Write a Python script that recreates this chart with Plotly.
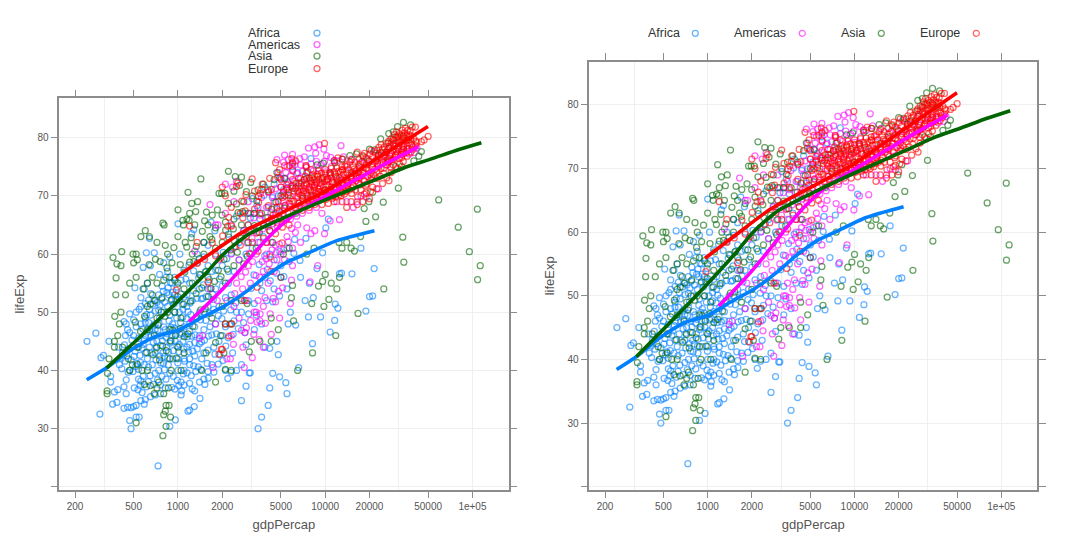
import plotly.graph_objects as go

africa = [(241,45),(277,46.4),(300,42.2),(312,42.6),(340,45),(349,39),(349,38),(295,32.5),(360,34.2),(385,34.5),(370,36.3),(390,36.7),(430,37.2),(445,36),(445,38.4),(430,33.5),(455,33.7),(480,33.6),(500,33.8),(520,34),(480,30),(470,31.4),(520,32),(545,32),(560,34.8),(590,34.2),(600,35),(540,38.5),(560,38.2),(580,39),(505,37),(470,40),(495,39.8),(450,42.5),(420,43),(400,41),(395,44),(440,46),(470,46.5),(430,48.4),(445,48),(455,47),(470,49.7),(500,48.7),(520,50),(545,50.5),(560,51),(600,51.5),(640,50.5),(690,52),(740,53),(560,52.5),(590,54),(620,55),(510,54.2),(540,45.5),(600,46),(640,47),(700,48),(750,49),(800,50),(850,51),(900,52),(950,53),(600,43),(640,44),(680,44.8),(720,45),(770,46),(820,47),(870,48.5),(920,48),(980,49),(1020,50),(1080,50.5),(1150,51),(590,41),(630,40.6),(670,41),(710,41.8),(750,42.5),(790,43),(840,44),(900,45),(960,45),(1020,44.5),(1080,45),(1150,44),(1200,44.5),(1300,44.8),(700,39.5),(740,40),(780,39),(830,38.5),(880,39.5),(930,39),(990,38.3),(1050,38),(1100,37.5),(1200,37.8),(1250,36.8),(1300,36.5),(1400,38),(1500,38.5),(1600,39.8),(1700,41),(1050,35.8),(1060,36.5),(1170,33),(1200,33.2),(1290,33.8),(1410,35.2),(960,31.5),(880,30.4),(733,23.6),(650,35.5),(700,35.8),(760,36),(820,37),(860,41),(920,42),(1000,42),(1100,42),(1200,42),(1300,42.5),(1450,42),(1500,43),(1600,43.5),(1750,44),(1900,45),(2000,46),(2100,47.5),(2250,48),(2400,48.5),(1400,46),(1500,47),(1650,47.5),(1800,48),(1300,47.5),(1200,48),(1100,47.5),(1000,47),(1400,50),(1500,50),(1600,51),(1750,50.5),(1900,51),(2100,52.5),(2300,53),(2500,50),(2700,50),(3000,52),(3300,51.5),(3600,55),(3900,56),(2200,55),(2000,54.5),(1800,54),(1600,54),(1400,54),(1200,55),(1050,55.5),(950,56),(850,57),(750,56.5),(650,58),(610,60.2),(690,60.2),(640,62.7),(580,57.7),(800,58.5),(880,59.5),(1030,60),(1000,65.2),(1240,63.5),(1280,64.2),(1680,65.5),(1780,64),(1500,62),(1600,61.5),(1350,60),(1500,59.5),(1600,58),(1800,60),(2000,58),(2200,57),(2400,57),(2600,59),(2900,60),(3200,61),(3500,62),(3800,63),(4200,60),(4500,59),(5000,58),(5500,61),(6200,62.5),(7400,62.7),(9600,60.2),(10100,64.5),(10500,66),(8000,76.4),(5000,73),(6000,75),(4500,72),(3900,71.5),(5200,71),(6500,74),(4800,70),(3200,69.5),(2800,67),(2500,66.5),(3600,66),(4100,68),(3000,65),(2600,62),(2800,64),(3300,67),(21000,52.8),(20000,52.7),(18900,50.2),(15200,56.6),(12900,56.7),(12500,56.6),(11600,48.6),(10800,46.6),(11700,51.4),(12200,50.7),(9300,49.2),(7700,49.2),(7800,55),(8300,52.5),(7300,52),(6300,47.8),(5800,50),(5600,48),(4900,52.8),(8200,44.6),(4700,45),(4800,42.7),(6600,40.5),(3900,44),(4200,43.8),(4400,39.5),(4900,38.9),(5400,37.9),(5500,36),(4200,37),(4100,34),(3700,32),(3500,30),(2700,34.8),(2900,37.3),(3100,39.6),(3050,39.6),(2700,41),(2500,40),(2350,43),(2100,40),(2850,46.5),(3300,47),(3700,48),(21500,57.5),(17500,61),(8800,57.5),(6800,56),(5500,54),(4500,54),(4000,52),(1250,52),(1150,53),(950,50),(880,49.5),(800,47.5),(700,47),(650,49.5),(600,49),(560,48),(520,47.5),(500,46),(540,44),(580,44.5),(620,42),(660,43),(760,37.5),(700,43),(1000,40),(1100,40),(1200,41),(870,53),(780,54.5),(830,56),(910,55),(1700,57),(1350,58.5)]
africa += [(412,42.1),(433,44.4),(462,43.7),(487,45.2),(511,43.3),(527,41.2),(553,42.6),(571,43.8),(593,45.3),(617,46.6),(633,48.2),(657,45.9),(673,47.6),(689,46.3),(712,44.1),(729,46.9),(743,48.1),(761,44.3),(783,45.1),(797,41.2),(811,42.4),(829,45.7),(847,46.3),(863,43.2),(881,44.7),(897,47.4),(911,46.1),(931,43.4),(947,47.3),(967,46.2),(983,44.2),(997,41.3),(1013,43.2),(1031,46.2),(1043,48.2),(1061,46.4),(1079,49.2),(1093,43.7),(1109,41.6),(1127,46.2),(1139,48.9),(1163,45.8),(1181,43.2),(1197,46.7),(1223,49.6),(1241,45.9),(1263,43.3),(1279,40.8),(1307,46.1),(1327,48.9),(1351,43.7),(1373,40.6),(1397,44.6),(1423,48.7),(1447,44.9),(1477,52.4),(1513,45.2),(1547,48.6),(1579,41.2),(1613,45.9),(1651,49.8),(1697,46.1),(1739,52.2),(1783,42.8),(1827,46.3),(1879,49.4),(1931,42.7),(1987,48.9),(2041,50.2),(2113,44.2),(2197,45.6),(2281,50.4),(2371,46.2),(2467,51.6),(2567,47.2),(2681,52.4),(2791,48.2),(2903,44.4),(3017,49.7),(3141,54.1),(3277,56.4),(3413,49.5),(3557,58.2),(3701,53.7),(3887,59.7),(4043,57.3),(4237,55.4),(4411,51.8),(4679,56.7),(4919,60.4),(5237,56.1),(5681,58.7),(6127,60.1),(6743,58.9),(535,36.7),(553,37.4),(571,36.2),(611,37.2),(629,38.1),(647,39.1),(683,37.6),(727,38.4),(767,41.3),(809,40.1),(853,42.1),(907,37.1),(953,36.8),(1013,37.4),(1087,39.4),(1153,39.6),(1231,39.1),(1321,39.8),(1433,40.2),(1523,37.6),(1607,38.7),(1753,39.7),(1877,41.1),(2021,41.7),(2179,38.6),(2291,39.7),(415,40.3),(437,41.6),(459,39.7),(481,41.8),(503,42.4),(517,40.7),(539,40.2),(557,41.4),(577,47.1),(599,48.2),(612,49.6),(631,52.1),(653,53.2),(677,51.4),(703,50.2),(721,51.7),(739,50.4),(757,51.2),(773,52.3),(793,53.6),(813,51.7),(841,53.4),(859,54.2),(889,55.1),(919,53.4),(937,51.4),(967,52.2),(991,54.3),(1021,52.1),(1051,53.1),(1071,51.3),(1101,52.6),(1131,55.7),(1171,50.1),(1211,51.6),(1271,53.7),(1341,52.4),(1381,55.9),(1441,52.3),(1489,54.7),(1553,52.7),(1631,55.6),(1717,53.1),(1807,57.2),(1913,55.7),(2033,60.3),(2143,59.2),(2311,60.1),(2477,61.3),(1097,57.2),(1187,58.1),(1277,57.1),(1423,56.4),(1531,56.9),(3101,66.2),(3433,68.3),(3847,70.1),(4373,69.7),(5571,72.4),(4033,65.1),(4717,67.7),(2203,63.4)]

americas = [(1400,45.5),(1470,46),(1730,40.5),(1800,48),(1650,54),(2150,42),(2270,42),(2300,46),(2380,44.5),(2700,46.9),(2850,46.5),(2820,40.5),(2760,44),(3200,42.2),(3400,50),(3450,48.3),(3600,48.5),(3800,44),(3550,45.3),(4300,46.2),(4900,49),(4600,51.8),(5800,51.5),(5900,55.5),(7900,55.2),(8900,58),(3800,51),(3900,52.5),(3300,50),(3500,52),(2900,52),(2600,49),(2400,51),(2150,52),(1850,52),(2500,55),(2750,54),(3100,55),(3600,56),(3800,57),(4100,55),(4500,57),(5000,56),(5300,59),(6000,58),(4700,59),(4000,60),(3400,60),(3000,58),(2600,59),(2300,60),(1900,59),(1300,60.5),(1800,65),(1650,68.5),(1870,65),(2100,67),(2400,69),(2300,65),(2800,64),(3000,69),(2100,72),(2500,72.5),(2350,71.5),(3600,62),(3300,64),(4000,62),(4300,62),(4600,61.5),(5500,63),(5000,60),(6000,61),(6800,62),(8000,63.5),(9900,63.5),(8500,64),(7500,64.5),(6500,65),(5800,66),(6400,66.5),(7000,67),(7800,67.5),(8700,68),(9500,67),(10800,65.7),(12500,65.9),(5200,67),(4600,67),(4000,68),(3500,68),(3100,67),(4500,69),(5200,69),(5800,70),(6500,70),(7200,70.5),(8000,71),(9000,70.5),(10000,71),(12000,69),(14000,69),(15500,68),(16500,69),(17500,70),(19000,69.8),(23000,71.2),(4400,70),(5000,71.5),(5600,72),(6200,72.5),(6800,73),(7500,73),(5400,74),(4800,74),(6000,74.5),(5500,75),(6000,75.8),(4700,76.2),(5300,77),(6000,77.1),(7700,78.2),(8500,78.4),(9100,78.8),(9800,78),(10900,76.6),(12800,78.6),(9900,75.9),(9400,75.4),(11000,75),(8000,75.5),(12000,76),(14000,75),(16000,74),(18000,74),(21000,75),(22000,76),(23000,77),(25000,77),(27000,76.5),(30000,77),(33000,77.5),(36000,78),(39000,78.3),(42000,78.2),(29000,78.8),(27000,78.2)]
americas += [(2913,47.3),(3117,48.6),(3271,46.2),(3611,49.7),(3923,48.1),(4231,49.7),(4437,52.4),(4813,53.6),(5137,54.2),(2431,53.2),(2687,56.1),(2879,56.9),(3047,60.1),(3211,58.7),(3389,56.3),(3733,58.7),(3967,59.2),(4163,58.3),(4357,60.7),(4651,60.3),(4877,61.7),(5231,60.7),(5613,62.1),(2947,61.9),(3183,62.7),(3467,63.7),(3767,64.3),(4087,64.7),(4397,65.2),(4733,64.7),(5071,65.4),(5477,65.9),(5917,64.4),(6271,63.7),(3277,66.2),(3613,66.7),(3967,66.2),(4283,67.1),(4561,66.1),(4927,68.2),(5381,68.4),(5743,68.1),(6173,67.9),(6647,68.7),(7211,68.4),(7639,69.2),(8231,69.6),(8863,69.3),(9613,69.8),(10733,70.1),(11437,70.6),(12811,70.8),(13877,71.3),(3691,69.7),(4103,70.6),(4613,71.2),(5131,70.3),(5467,71.1),(5867,71.6),(6331,71.4),(6883,71.6),(7411,71.9),(8107,72.2),(8713,72.3),(9337,72.1),(10217,72.6),(11113,72.4),(12203,72.7),(13417,73.1),(14813,73.4),(16217,72.6),(18317,72.8),(20113,73.6),(4913,73.1),(5337,72.9),(5819,73.4),(6427,73.8),(7013,74.2),(7633,74.1),(8317,74.3),(9013,74.7),(10037,74.1),(10913,73.7),(6211,75.3),(6833,75.3),(7411,75.1),(5213,75.8),(5617,76.2),(8719,75.9),(10211,76.9),(11533,76.1),(13301,76.7),(15217,76.3),(17413,75.6),(19217,76.2),(21317,77.6),(24211,75.7),(26417,75.3),(28719,77.8),(31313,78.3),(34117,78.4),(37211,77.2),(40313,77.4),(6719,76.4),(7217,76.7),(8617,77.3)]

asia = [(330,36),(330,36.5),(332,39.5),(340,42),(370,45),(370,44),(372,49.3),(378,53),(362,59.4),(385,58.3),(410,58),(415,60.4),(380,55.9),(495,60),(520,60),(530,59),(500,58.5),(560,63),(600,64),(640,63),(720,62),(790,65.3),(805,65),(1000,67.6),(1170,70.6),(1090,65),(1000,63),(820,61.5),(850,60),(910,58.5),(1080,65.8),(1150,66),(1200,67),(1190,65.8),(1240,68.7),(1320,67.3),(1300,65),(1360,69),(1120,62),(1230,62.8),(1250,60),(1500,60),(1500,62),(1600,65),(1650,63),(1700,62.5),(1800,64.5),(1430,72.9),(1900,70.4),(1980,70.4),(2200,74.2),(2080,70.4),(2200,68.7),(2500,68.6),(2450,73.3),(2620,71.8),(2700,73.2),(2400,70.8),(2800,69),(3000,67),(3200,70),(3500,71),(3800,72),(4100,71),(4500,72.8),(4700,74),(5000,70),(5300,73),(3300,67),(3700,67),(4200,64),(4400,62),(2100,65.5),(2400,66),(2700,65),(3000,62),(3400,61),(2000,62),(1800,61),(1550,57),(1600,56),(1400,56.5),(1250,55),(1100,54),(1000,55),(950,55.5),(880,56),(800,55.5),(720,55),(670,56),(620,55),(580,54),(520,56),(470,55),(440,53),(410,50),(400,48),(390,46),(420,44),(460,42),(490,41),(530,41),(570,40),(620,40),(590,37.6),(650,37.4),(690,36),(720,37),(740,38),(800,36),(860,37),(820,33),(830,34),(870,34),(800,32.4),(890,32),(830,30.4),(790,28.8),(520,31),(470,40),(530,44),(620,47),(690,46),(720,49),(770,50),(850,50),(950,50),(1050,49),(700,52),(780,52.5),(670,53),(620,51),(880,47),(960,46),(1000,44),(880,42),(900,40),(1050,40),(1100,43),(1450,40),(1550,43),(1700,49),(1800,44.8),(1950,46),(2100,48),(2300,48),(2050,43),(1800,38),(2100,40.2),(2300,40),(2000,51),(2100,55),(2300,52),(2400,58),(2700,52),(2950,51.5),(3150,45),(3600,45),(3050,43.2),(4300,49),(4300,45),(4800,47),(5000,56),(5200,60),(5700,61),(6100,48.5),(6000,54.6),(5900,52.5),(6500,40),(7500,60),(8400,61),(8200,43),(8100,51.5),(9000,54.5),(9600,55.3),(9800,51),(10600,52.2),(11800,46),(12000,54),(12400,62),(13000,61),(14000,62),(15000,61),(15800,60.5),(16700,49.8),(25000,54),(12500,56),(11000,55),(10000,56.5),(17400,63),(18400,67.8),(19800,69),(21000,70.6),(22000,66.4),(18900,65.6),(24800,68.9),(31400,71.3),(33650,62.9),(34200,58.6),(59000,69.3),(108000,67.7),(80100,64.6),(95300,60.4),(113000,58),(108400,55.6),(45000,77.6),(40000,76),(33000,75),(30000,75),(27000,76),(23000,77),(20000,78),(23800,79.8),(27000,80.7),(31000,81.9),(34000,82.6),(38000,82.2),(29000,81),(26000,77.5),(17000,75),(15000,74),(12000,73),(10000,71),(8000,70),(7000,69.5),(6300,67),(7500,74),(9500,73)]
asia += [(613,43.1),(677,42.7),(717,43.9),(749,41.8),(787,44.2),(833,43.4),(887,45.1),(919,46.9),(977,42.1),(1037,47.2),(1103,45.8),(1171,46.3),(1263,47.6),(1337,49.2),(1427,50.4),(1531,50.6),(1607,52.7),(1677,54.1),(1771,55.3),(1879,57.2),(1961,56.1),(2057,59.1),(2161,57.4),(2277,60.7),(2411,62.3),(2531,60.3),(2683,62.7),(2797,58.3),(2953,59.6),(3103,64.2),(3313,64.9),(3571,63.7),(3819,65.1),(4073,66.3),(4337,67.7),(4621,68.9),(4913,66.1),(5287,67.9),(5617,70.1),(6013,71.3),(6617,72.2),(7213,72.8),(8123,73.1),(8817,75.3),(9713,75.6),(10817,73.9),(11613,75.7),(13117,76.3),(14713,76.9),(16317,77.2),(18113,76.7),(19817,75.9),(21713,77.9),(24117,77.4),(26713,79.1),(28817,79.7),(31017,80.1),(33817,80.2),(36517,79.7),(43217,76.8),(1147,61.2),(1283,58.7),(1397,59.2),(1463,63.9),(1517,65.7),(1561,67.2),(1709,66.7),(1853,67.6),(1993,66.7),(2107,64.1),(2213,62.9),(2377,64.3),(2557,67.1),(2743,67.3),(2917,70.7),(3119,72.3),(3433,69.1),(637,58.2),(703,59.1),(757,58.7),(841,57.6),(937,61.1),(1037,58.2),(1113,56.9),(1201,58.6),(1331,61.3),(513,48.3),(557,46.7),(593,49.3),(651,51.4),(733,47.8),(817,49.3),(907,52.2),(997,52.7),(1093,51.4),(1217,51.9),(1327,53.2),(1453,54.2)]

europe = [(973,53.8),(1354,58.4),(1710,61.9),(2172,64.8),(2860,67.4),(3528,69.9),(4126,70.7),(4314,71.1),(2547,72.2),(4766,73.2),(6019,74.3),(7447,74.9),(1601,55.2),(1942,59.3),(2312,64.8),(2760,66.2),(3313,67.7),(3533,68.9),(3630,70.4),(3739,72),(2497,71.6),(3193,72.9),(4604,75.7),(5937,76.4),(1969,43.6),(2219,45.9),(2322,48),(2826,52),(3451,54.3),(4269,57),(4241,59.5),(5089,61.9),(5678,65),(6601,68.8),(6508,70.8),(8458,71.8),(2650,61.5),(3200,62),(3500,60.5),(3800,65),(4200,64),(4600,63.5),(5000,66),(5600,67),(6300,68),(7000,67.5),(7800,68),(8500,68.5),(9500,68.5),(10500,68.7),(11500,69),(13000,69),(14000,68),(15000,69),(16500,68.5),(18000,69),(20000,69.5),(4800,69),(5300,70),(5800,69.5),(6500,69.7),(7000,70),(7600,70),(8200,70),(8800,70.2),(9400,70),(10000,70),(10700,70.5),(11300,70),(12000,70.5),(12800,70),(13500,70.3),(14500,71),(16000,71),(17500,71),(19000,70.5),(21000,71.5),(5000,71.5),(5500,71.3),(6000,71.7),(6600,71.7),(7200,71.7),(7800,71.5),(8400,71.5),(9000,71.2),(9700,71.5),(10300,71.8),(11000,71.5),(11800,72),(12500,71.5),(13300,72),(14200,72.5),(15300,72.5),(16800,72.2),(18500,72.5),(20500,72.8),(22500,73),(6000,72.8),(6600,73),(7200,72.8),(7800,73),(8400,72.8),(9000,72.8),(9700,73.2),(10300,72.8),(11000,73.1),(11800,73.3),(12500,73.1),(13300,73.7),(14200,73.8),(15300,74),(16800,74),(18500,74),(20500,74),(22500,74.2),(25000,73.8),(28000,74),(8000,74.5),(9000,74.3),(10000,74.5),(11000,74.7),(12000,74.8),(13000,75),(14000,75.3),(15500,75.2),(17000,75.4),(19000,75.3),(21000,75.5),(23500,75.6),(26000,75.3),(29000,75.3),(32000,75.5),(11500,76),(13000,76.3),(15000,76.2),(17000,76.3),(19000,76.5),(21000,76.7),(23000,76.7),(25000,76.9),(27500,76.8),(30000,77),(33000,76.6),(36000,76.8),(16500,77.5),(18500,77.3),(20500,77.8),(22500,77.8),(24500,78),(26500,77.9),(29000,78),(31500,78),(34000,78),(37000,78.1),(39500,78),(24000,78.8),(26000,79),(28000,79.1),(30000,79),(32000,79.2),(34500,79),(37000,79.1),(28000,79.8),(30000,80),(32000,79.9),(34500,80),(37000,80),(40000,79.8),(32000,80.7),(34500,80.8),(37000,80.5),(30500,81),(42000,79.2),(45000,79.3),(47000,79.6),(50000,80.2),(39000,81.8),(41000,81.8),(9900,79),(13000,74.5),(12200,76.5),(6000,75.6),(7400,75.2),(4900,74.5),(5300,75.2),(5700,75.2),(6300,76),(5000,72.8),(4200,73),(4700,68),(3600,67),(2000,71.5),(2100,70),(2650,67),(2300,68),(3000,65),(3100,60),(4000,62),(1200,64.8),(1350,62),(1800,59.7),(2100,48),(2000,43.6),(1900,42.8)]
europe += [(4433,66.7),(4873,67.4),(5311,68.3),(5733,68.7),(6117,69.1),(6733,68.3),(7117,68.9),(7519,69.3),(7933,69.4),(8317,69.1),(8713,69.6),(9113,69.2),(9613,69.7),(10117,69.4),(10633,69.9),(11217,69.6),(11813,69.8),(12413,70.2),(13117,70.6),(13919,70.8),(15117,70.4),(16613,69.8),(18413,70.3),(20317,70.7),(22417,71.2),(24517,72.1),(27113,72.6),(5213,70.7),(5633,70.6),(6113,70.8),(6613,70.4),(7111,70.8),(7517,70.5),(8017,70.7),(8513,70.9),(9013,70.7),(9517,70.8),(10111,70.6),(10819,71.1),(11611,71.2),(12517,70.9),(13211,71.3),(14111,71.7),(15511,71.8),(17213,71.9),(19113,72),(6317,72.2),(6913,72.3),(7433,72.2),(8013,72.4),(8717,72.1),(9213,72.3),(9917,72.5),(10513,72.4),(11311,72.3),(12117,72.5),(12917,72.7),(13917,73.1),(15017,73.2),(16317,73.4),(17713,73.5),(19413,73.3),(21413,73.6),(23613,73.4),(26213,73.1),(8217,73.6),(8813,73.7),(9417,73.9),(10017,73.8),(10713,74),(11513,74.1),(12313,74.2),(13113,74.4),(14313,74.5),(15713,74.6),(17313,74.8),(18913,74.7),(20813,74.9),(22913,75),(25213,74.8),(27913,74.9),(30913,74.7),(33913,75.9),(15913,75.8),(17913,75.9),(19913,76),(22013,76.1),(24313,76.3),(26713,76.2),(29113,76.3),(31913,76.4),(34313,77.3),(18013,76.9),(20013,77.2),(22013,77.3),(24013,77.3),(26013,77.4),(28013,77.3),(30513,77.6),(33013,77.8),(35513,77.4),(38213,77.5),(23113,78.3),(25213,78.4),(27213,78.5),(29513,78.5),(31513,78.6),(33513,78.5),(36013,78.6),(38613,78.7),(41013,78.6),(27013,79.4),(29113,79.5),(31113,79.5),(33313,79.6),(35613,79.5),(38113,79.6),(41213,79.4),(29513,80.5),(31313,80.3),(33013,80.4),(35813,80.4),(38313,80.3),(33513,81.3),(36113,81.2),(35013,81.6),(37713,81.1),(2417,61.2),(2913,63.1),(3411,63.6),(3817,62.7),(4313,66.1),(4713,65.4),(5117,64.6),(2893,70.2),(3311,70.8),(2713,69.1),(3711,71.1),(4117,68.3),(1517,59.1),(2213,66.3),(2011,63.1)]
europe += [(5127,69.7),(5473,71.9),(5939,69.1),(6239,71.2),(6817,70.1),(7289,71.2),(7711,71.1),(8137,71.9),(8627,70.5),(9227,71.7),(9871,70.9),(10407,72.9),(11007,70.2),(11933,71.4),(12311,72.2),(13021,72.2),(13733,72.6),(14303,72.1),(15207,71.3),(15811,73.8),(16437,73),(17019,73.1),(18087,73.9),(18811,71.7),(19703,74.4),(20611,73.3),(21877,74.6),(22711,75.4),(23913,74.7),(24733,75.7),(25633,76.7),(26917,75.8),(28217,76.1),(29733,76.7),(31117,77.2),(32933,77.1),(8907,73.4),(9533,72.7),(10817,73.5),(11703,73.7),(12711,74.1),(13611,75.1),(14733,75.8),(16119,74.3),(6871,71.1),(7337,73.4),(7891,72.6),(8481,73.3)]

series = {"Africa": africa, "Americas": americas, "Asia": asia, "Europe": europe}

colors = {"Africa": "#0080ff", "Americas": "#ff00ff", "Asia": "#006400", "Europe": "#ff0000"}

smooth_africa_gdp = [240, 330, 480, 700, 1000, 1500, 2050, 3000, 4000, 5500, 7850, 12000, 21600]
smooth_africa_life = [38.4, 40.5, 43.5, 45.8, 46.9, 49.3, 51.0, 53.8, 56.3, 58.6, 60.3, 62.3, 64.0]
smooth_americas_gdp = [1190, 1560, 2050, 2670, 3500, 4570, 6500, 10000, 23100, 42900]
smooth_americas_life = [48.4, 51.2, 54.2, 57.4, 60.9, 64.0, 67.2, 69.9, 74.9, 78.4]
smooth_asia_gdp = [327, 624, 1000, 1560, 2040, 2980, 5000, 10000, 23100, 35000, 51900, 80000, 115000]
smooth_asia_life = [40.4, 47.0, 51.9, 56.8, 60.0, 63.3, 66.0, 69.3, 73.0, 74.9, 76.3, 77.9, 79.1]
smooth_europe_gdp = [960, 1560, 2670, 5000, 10000, 20000, 49900]
smooth_europe_life = [55.9, 59.6, 63.6, 67.0, 70.8, 75.6, 81.9]
smooths = {
    "Africa": (smooth_africa_gdp, smooth_africa_life),
    "Americas": (smooth_americas_gdp, smooth_americas_life),
    "Asia": (smooth_asia_gdp, smooth_asia_life),
    "Europe": (smooth_europe_gdp, smooth_europe_life),
}

x_ticks = [200, 500, 1000, 2000, 5000, 10000, 20000, 50000, 100000]
x_labels = ["200", "500", "1000", "2000", "5000", "10000", "20000", "50000", "1e+05"]
x_grid = [316.2, 1000, 3162.3, 10000, 31622.8, 100000]
y_ticks = [20, 30, 40, 50, 60, 70, 80]
y_labels = ["", "30", "40", "50", "60", "70", "80"]

W, H = 1080, 546
panels = [
    dict(x="x", y="y", xa="xaxis", ya="yaxis", l=59.3, r=508.5, t=98.3, b=489.5),
    dict(x="x2", y="y2", xa="xaxis2", ya="yaxis2", l=589.3, r=1037.3, t=62, b=489.5),
]
ink = "#555555"
frame = "#8c8c8c"

fig = go.Figure()
for p in panels:
    for name, pts in series.items():
        fig.add_trace(go.Scatter(
            x=[a for a, b in pts], y=[b for a, b in pts], mode="markers", name=name,
            xaxis=p["x"], yaxis=p["y"], showlegend=False, hoverinfo="skip",
            marker=dict(symbol="circle-open", size=6, opacity=0.6, color=colors[name], line=dict(width=1.25)),
        ))
    for name, (gx, gy) in smooths.items():
        fig.add_trace(go.Scatter(
            x=gx, y=gy, mode="lines", xaxis=p["x"], yaxis=p["y"], showlegend=False, hoverinfo="skip",
            line=dict(color=colors[name], width=3.6, shape="spline", smoothing=0.6),
        ))
    fig.layout[p["xa"]] = dict(
        domain=[p["l"] / W, p["r"] / W], type="log", range=[2.194, 5.245], anchor=p["y"],
        tickmode="array", tickvals=x_ticks, ticktext=x_labels, ticks="outside", ticklen=7, tickwidth=1,
        tickcolor=frame, showline=True, linecolor=frame, linewidth=1.5, mirror="ticks", showgrid=False, zeroline=False,
        tickfont=dict(family="Liberation Sans", size=10, color=ink),
        title=dict(text="gdpPercap", font=dict(family="Liberation Sans", size=13, color=ink), standoff=9),
        minor=dict(tickmode="array", tickvals=x_grid, showgrid=True, gridcolor="#efefef", gridwidth=1.4, ticks=""),
    )
    fig.layout[p["ya"]] = dict(
        domain=[1 - p["b"] / H, 1 - p["t"] / H], range=[19.55, 86.75], anchor=p["x"],
        tickmode="array", tickvals=y_ticks, ticktext=y_labels, ticks="outside", ticklen=7, tickwidth=1,
        tickcolor=frame, showline=True, linecolor=frame, linewidth=1.5, mirror="ticks", showgrid=True,
        gridcolor="#efefef", gridwidth=1.4, zeroline=False,
        tickfont=dict(family="Liberation Sans", size=10, color=ink),
        title=dict(text="lifeExp", font=dict(family="Liberation Sans", size=13, color=ink), standoff=10),
    )

annotations, shapes = [], []
def key(label, tx, kx, ky):
    annotations.append(dict(text=label, xref="paper", yref="paper", x=tx / W, y=1 - ky / H, xanchor="left",
                            yanchor="middle", showarrow=False, xshift=-1,
                            font=dict(family="Liberation Sans", size=12.5, color="#333333")))
    shapes.append(dict(type="circle", xref="paper", yref="paper", xsizemode="pixel", ysizemode="pixel",
                       xanchor=kx / W, yanchor=1 - ky / H, x0=-3, x1=3, y0=-3, y1=3,
                       line=dict(color=colors[label], width=1.25), opacity=0.6))

for label, ky in zip(series, [33, 44.5, 56, 68.5]):
    key(label, 247.3, 317, ky)
for label, tx, kx in zip(series, [646.7, 733.3, 840, 919.3], [695.3, 802.3, 881.3, 976.3]):
    key(label, tx, kx, 33.3)

fig.update_layout(width=W, height=H, margin=dict(l=0, r=0, t=0, b=0), paper_bgcolor="white", plot_bgcolor="white",
                  showlegend=False, annotations=annotations, shapes=shapes)
fig.write_html("out.html", config={"displayModeBar": False}, post_script="document.body.style.margin='0';")
